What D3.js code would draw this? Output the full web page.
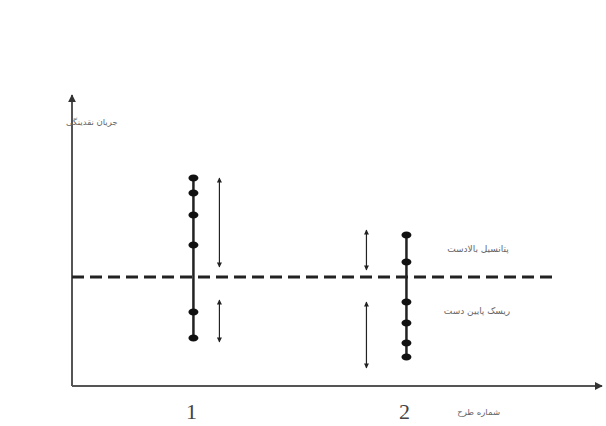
<!DOCTYPE html>
<html><head><meta charset="utf-8">
<script src="https://cdn.jsdelivr.net/npm/d3@7"></script>
<style>html,body{margin:0;padding:0;background:#fff;}svg{display:block;}</style>
</head><body><div id="chart"></div>
<script>
// ---- data (cash flow units, 0 = expected baseline) ----
const projects = [1, 2];
const tickLabels = ["1", "2"];
const project1Points = [4.95, 4.2, 3.1, 1.6, -1.75, -3.05];
const project2Points = [2.1, 0.75, -1.25, -2.3, -3.3, -4.0];
const upsideRange = [[4.95, 0.5], [2.35, 0.35]];
const downsideRange = [[-1.15, -3.25], [-1.25, -4.55]];
const baseline = 0;
const yLabel = "جریان نقدینگی";
const xLabel = "شماره طرح";
const upLabel = "پتانسیل بالادست";
const downLabel = "ریسک پایین دست";

const W = 606, H = 426;
const svg = d3.select("#chart").append("svg").attr("width", W).attr("height", H);

const x = d3.scaleLinear().domain([0.43, 2.918]).range([72, 602]);
const y = d3.scaleLinear().domain([-5.45, 9.1]).range([386, 95]);

const defs = svg.append("defs");
function marker(id, color, w, h) {
  defs.append("marker").attr("id", id).attr("viewBox", "0 0 10 10")
    .attr("refX", 9).attr("refY", 5).attr("markerWidth", w).attr("markerHeight", h)
    .attr("markerUnits", "userSpaceOnUse").attr("orient", "auto-start-reverse")
    .append("path").attr("d", "M0,0 L10,5 L0,10 Z").attr("fill", color);
}
marker("axisHead", "#333", 8, 9);
marker("head", "#222", 8, 5);

// axes
const axisColor = "#555";
svg.append("line").attr("x1", x(0.43)).attr("x2", x(0.43))
  .attr("y1", y(-5.45)).attr("y2", y(9.1))
  .attr("stroke", axisColor).attr("stroke-width", 2).attr("marker-end", "url(#axisHead)");
svg.append("line").attr("x1", x(0.43)).attr("x2", x(2.918))
  .attr("y1", y(-5.45)).attr("y2", y(-5.45))
  .attr("stroke", axisColor).attr("stroke-width", 2).attr("marker-end", "url(#axisHead)");

// tick labels
svg.selectAll("text.tick").data(projects).join("text").attr("class", "tick")
  .attr("x", d => x(d) - 2).attr("y", 419)
  .attr("text-anchor", "middle")
  .attr("font-family", "Liberation Serif, DejaVu Serif, serif")
  .attr("font-size", 22).attr("fill", "#444")
  .text((d, i) => tickLabels[i]);

// baseline dashed
svg.append("line").attr("x1", x(0.43)).attr("x2", 555)
  .attr("y1", y(baseline)).attr("y2", y(baseline))
  .attr("stroke", "#222").attr("stroke-width", 3).attr("stroke-dasharray", "12,6");

const allPoints = [project1Points, project2Points];
projects.forEach((p, i) => {
  const pts = allPoints[i];
  const g = svg.append("g");
  g.append("line").attr("x1", x(p)).attr("x2", x(p))
    .attr("y1", y(d3.max(pts))).attr("y2", y(d3.min(pts)))
    .attr("stroke", "#222").attr("stroke-width", 2.5);
  g.selectAll("ellipse").data(pts).join("ellipse")
    .attr("cx", x(p)).attr("cy", d => y(d)).attr("rx", 5).attr("ry", 3.5)
    .attr("fill", "#111");
  const ax = i === 0 ? x(p) + 26 : x(p) - 40;
  [upsideRange[i], downsideRange[i]].forEach(r => {
    g.append("line").attr("x1", ax).attr("x2", ax)
      .attr("y1", y(r[0])).attr("y2", y(r[1]))
      .attr("stroke", "#222").attr("stroke-width", 1.2)
      .attr("marker-start", "url(#head)").attr("marker-end", "url(#head)");
  });
});

const faFont = "DejaVu Sans, Noto Sans, sans-serif";
svg.append("text").attr("x", 66).attr("y", 125).attr("text-anchor", "end")
  .attr("direction", "rtl").attr("font-family", faFont).attr("font-size", 8.5)
  .attr("fill", "#666").text(yLabel);
svg.append("text").attr("x", 500).attr("y", 415).attr("text-anchor", "end")
  .attr("font-family", faFont).attr("font-size", 8.5).attr("fill", "#666").text(xLabel);
svg.append("text").attr("x", 478).attr("y", 252).attr("text-anchor", "middle")
  .attr("font-family", faFont).attr("font-size", 9).attr("fill", "#666").text(upLabel);
svg.append("text").attr("x", 477).attr("y", 314).attr("text-anchor", "middle")
  .attr("font-family", faFont).attr("font-size", 9).attr("fill", "#666").text(downLabel);
</script></body></html>
